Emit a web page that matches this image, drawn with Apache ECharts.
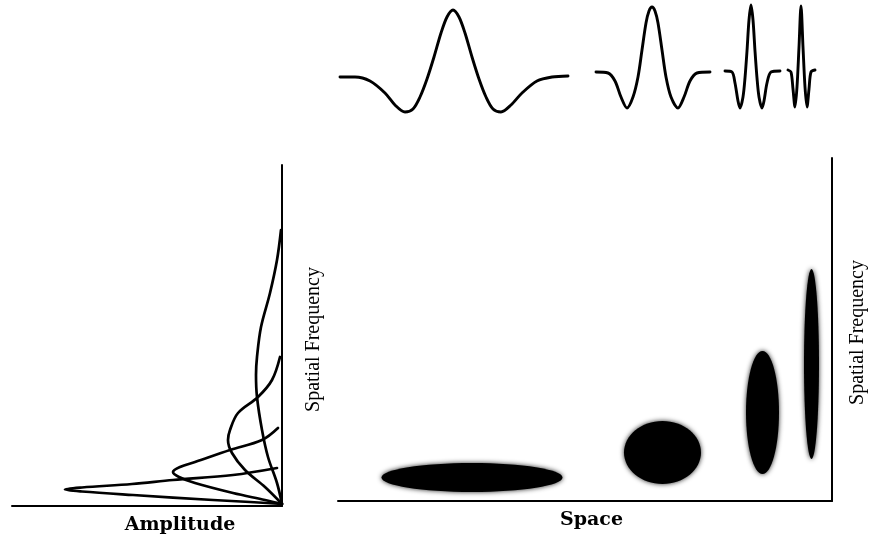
<!DOCTYPE html>
<html>
<head>
<meta charset="utf-8">
<script src="https://cdn.jsdelivr.net/npm/echarts@6/dist/echarts.min.js"></script>
<style>
html,body{margin:0;padding:0;background:#fff;}
#chart{width:871px;height:539px;}
</style>
</head>
<body>
<div id="chart"></div>
<script>
// ---- Left panel: amplitude (x) vs spatial frequency (y), four tuning curves ----
const ampCurve1 = [[0,2],[32,4],[69,6],[149,11],[200,14.5],[217,16.5],[200,18.5],[150,22],[109,26],[49,31],[5,38]];
const ampCurve2 = [[0,2],[17,6],[49,13],[87,23],[103,29],[109,34],[102,39],[87,44],[52,56],[20,66],[4,78]];
const ampCurve3 = [[0,2],[17,19],[37,36],[50,53],[54,66],[52,76],[44,93],[24,109],[10,126],[2,149]];
const ampCurve4 = [[0,2],[5,23],[14,49],[20,76],[25,109],[26,131],[25,149],[21,179],[12,213],[5,246],[1,276]];

// ---- Top: four wavelets (space position, response) ----
const wavelet1 = [[10,-2],[25,-2],[40,-6],[55,-18],[65,-30],[75,-37],[83,-34],[90,-22],[97,-4],[104,18],[111,42],[117,58],[123,65],[129,58],[135,42],[142,18],[149,-4],[156,-22],[163,-34],[171,-37],[181,-30],[192,-18],[207,-6],[222,-2],[238,-1]];
const wavelet2 = [[266,3],[278,2],[285,-6],[291,-22],[297,-33],[303,-22],[308,-2],[312,25],[316,52],[319,64],[322,68],[325,64],[328,52],[332,25],[336,-2],[341,-22],[348,-33],[354,-22],[360,-6],[367,2],[380,3]];
const wavelet3 = [[395,4],[402,3],[405,-8],[408,-26],[410,-33],[413,-22],[415,-3],[417,24],[419,55],[421,70],[423,55],[425,24],[427,-3],[429,-22],[432,-33],[434,-26],[437,-8],[441,3],[450,4]];
const wavelet4 = [[458,5],[461,3],[463,-14],[465,-32],[467,-12],[469,28],[471,69],[473,28],[475,-12],[477,-32],[479,-14],[481,3],[485,5]];

// ---- Right panel: space x spatial-frequency blobs ----
const blobSpace  = [134, 324.5, 424.5, 473.5];
const blobFreq   = [23.5, 48.5, 88.5, 137];
const blobWidth  = [183, 79, 35, 17];
const blobHeight = [31, 65, 125, 192];

// ---- Labels ----
const labelAmplitude = 'Amplitude';
const labelSpace = 'Space';
const labelFreq = 'Spatial Frequency';

const blobData = blobSpace.map((s, i) => [s, blobFreq[i], blobWidth[i], blobHeight[i]]);

const axisLineStyle = { show: true, onZero: false, lineStyle: { color: '#000', width: 2 } };
const bareAxis = { axisTick: { show: false }, axisLabel: { show: false }, splitLine: { show: false } };
const wideFont = { fontFamily: 'DejaVu Serif', fontWeight: 'bold', fontSize: 19, color: '#000' };
const narrowFont = { fontFamily: 'Liberation Serif', fontSize: 20, color: '#000' };

function lineSeries(data, xi, yi, width, smooth) {
  return {
    type: 'line', xAxisIndex: xi, yAxisIndex: yi, data: data,
    symbol: 'none', smooth: smooth, clip: false,
    lineStyle: { color: '#000', width: width, join: 'round', cap: 'round' }
  };
}

const chart = echarts.init(document.getElementById('chart'), null, { renderer: 'canvas' });
chart.setOption({
  backgroundColor: '#fff',
  animation: false,
  grid: [
    { left: 12, right: 589, top: 165, bottom: 33, containLabel: false, outerBoundsMode: 'none' },
    { left: 338, right: 39, top: 158, bottom: 38, containLabel: false, outerBoundsMode: 'none' },
    { left: 330, right: 41, top: 0, height: 120, containLabel: false, outerBoundsMode: 'none' }
  ],
  xAxis: [
    Object.assign({ gridIndex: 0, type: 'value', min: 0, max: 270, inverse: true,
      axisLine: axisLineStyle,
      name: labelAmplitude, nameLocation: 'middle', nameGap: 10,
      nameTextStyle: Object.assign({ padding: [0, 0, 0, 66] }, wideFont) }, bareAxis),
    Object.assign({ gridIndex: 1, type: 'value', min: 0, max: 494,
      axisLine: axisLineStyle,
      name: labelSpace, nameLocation: 'middle', nameGap: 10,
      nameTextStyle: Object.assign({ padding: [0, 0, 0, 13] }, wideFont) }, bareAxis),
    Object.assign({ gridIndex: 2, type: 'value', min: 0, max: 500, show: false }, bareAxis)
  ],
  yAxis: [
    Object.assign({ gridIndex: 0, type: 'value', min: 0, max: 341, position: 'right',
      axisLine: axisLineStyle,
      name: labelFreq, nameLocation: 'middle', nameRotate: 90, nameGap: 22,
      nameTextStyle: Object.assign({ padding: [0, 8, 0, 0] }, narrowFont) }, bareAxis),
    Object.assign({ gridIndex: 1, type: 'value', min: 0, max: 343, position: 'right',
      axisLine: axisLineStyle,
      name: labelFreq, nameLocation: 'middle', nameRotate: 90, nameGap: 16,
      nameTextStyle: Object.assign({ padding: [0, 6, 0, 0] }, narrowFont) }, bareAxis),
    Object.assign({ gridIndex: 2, type: 'value', min: -45, max: 75, show: false }, bareAxis)
  ],
  series: [
    lineSeries(ampCurve1, 0, 0, 2.7, 0.35),
    lineSeries(ampCurve2, 0, 0, 2.7, 0.35),
    lineSeries(ampCurve3, 0, 0, 2.7, 0.35),
    lineSeries(ampCurve4, 0, 0, 2.7, 0.35),
    lineSeries(wavelet1, 2, 2, 2.9, 0.3),
    lineSeries(wavelet2, 2, 2, 2.9, 0.3),
    lineSeries(wavelet3, 2, 2, 2.9, 0.3),
    lineSeries(wavelet4, 2, 2, 2.9, 0.3),
    {
      type: 'custom', xAxisIndex: 1, yAxisIndex: 1, data: blobData,
      renderItem: function (params, api) {
        const c = api.coord([api.value(0), api.value(1)]);
        const s = api.size([api.value(2), api.value(3)]);
        return {
          type: 'ellipse',
          shape: { cx: c[0], cy: c[1], rx: Math.max(s[0] / 2 - 1, 1), ry: Math.max(s[1] / 2 - 1, 1) },
          style: { fill: '#000', shadowBlur: 5, shadowColor: 'rgba(0,0,0,0.85)' }
        };
      }
    }
  ]
});
</script>
</body>
</html>
